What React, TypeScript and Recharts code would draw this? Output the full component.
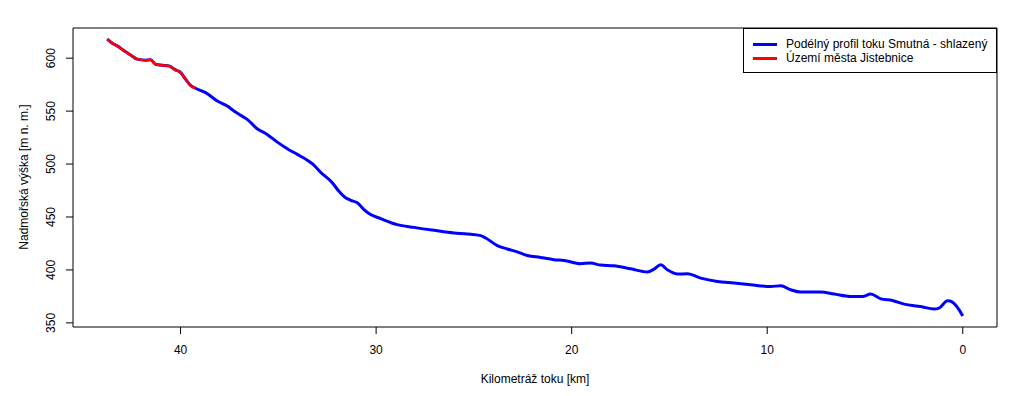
import React from 'react';
import {
  LineChart,
  Line,
  XAxis,
  YAxis,
  ReferenceArea,
  Legend,
} from 'recharts';

// river kilometre (km) and elevation (m n. m.)
const km = [
  43.75, 43.49, 43.24, 42.81, 42.56, 42.22, 41.79, 41.53, 41.28, 40.94,
  40.6, 40.26, 40.0, 39.74, 39.49, 39.23, 38.72, 38.12, 37.61, 37.27,
  36.93, 36.59, 36.08, 35.57, 35.05, 34.54, 34.03, 33.52, 33.25, 32.84,
  32.24, 31.9, 31.56, 31.3, 30.96, 30.62, 30.28, 29.77, 28.92, 28.07,
  27.04, 26.02, 25.34, 24.65, 24.4, 23.8, 23.29, 22.86, 22.27, 21.59,
  20.91, 20.39, 19.54, 19.03, 18.52, 17.84, 16.98, 16.13, 15.79, 15.45,
  15.11, 14.59, 14.08, 13.4, 12.55, 11.7, 10.84, 9.82, 9.31, 8.8,
  8.29, 7.26, 6.58, 5.73, 5.13, 4.71, 4.19, 3.6, 3.0, 2.15,
  1.47, 1.21, 0.78, 0.53, 0.0,
];
const elevation = [
  618.0, 614.2, 611.6, 606.0, 603.1, 599.1, 598.1, 598.4, 594.3, 593.4,
  592.7, 588.9, 586.5, 580.1, 574.4, 571.6, 567.5, 559.6, 554.8, 550.1,
  546.0, 542.2, 533.4, 528.0, 520.7, 514.5, 509.1, 503.7, 500.1, 492.3,
  482.3, 474.3, 468.1, 465.8, 463.4, 457.0, 452.3, 448.5, 442.8, 440.2,
  437.4, 434.9, 434.0, 432.4, 430.2, 422.9, 419.8, 417.5, 413.7, 411.8,
  409.7, 409.0, 405.9, 406.5, 404.6, 404.0, 401.1, 398.1, 400.7, 404.9,
  400.2, 396.1, 396.4, 392.3, 389.1, 387.6, 386.0, 384.4, 385.0, 381.3,
  379.1, 379.1, 377.2, 374.9, 374.9, 377.2, 372.7, 371.1, 367.7, 365.4,
  363.0, 363.9, 370.8, 369.6, 356.6,
];
// first points lie inside the town of Jistebnice
const townPoints = 16;

const xTicks = [0, 10, 20, 30, 40];
const yTicks = [350, 400, 450, 500, 550, 600];

const profile = km.map((k, i) => ({ km: k, h: elevation[i] }));
const town = profile.slice(0, townPoints);

const FONT = '"Liberation Sans", Arial, Helvetica, sans-serif';
const X_DOMAIN: [number, number] = [-1.75, 45.5];
const Y_DOMAIN: [number, number] = [346.1, 628.5];

const XTick = (props: any) => (
  <text x={props.x} y={354} textAnchor="middle" fontSize={12} fontFamily={FONT} fill="#000">
    {props.payload.value}
  </text>
);

const YTick = (props: any) => (
  <text
    x={55}
    y={props.y}
    transform={`rotate(-90, 55, ${props.y})`}
    textAnchor="middle"
    fontSize={12}
    fontFamily={FONT}
    fill="#000"
  >
    {props.payload.value}
  </text>
);

const LegendBox = () => (
  <div
    style={{
      border: '1px solid #000',
      background: '#fff',
      boxSizing: 'border-box',
      width: 254,
      height: 45,
      fontFamily: FONT,
      fontSize: 12,
      color: '#000',
      padding: '8px 0 0 9px',
      lineHeight: '14px',
    }}
  >
    {[
      { name: 'Podélný profil toku Smutná - shlazený', color: '#0000ff' },
      { name: 'Území města Jistebnice', color: '#ff0000' },
    ].map((item) => (
      <div key={item.name} style={{ display: 'flex', alignItems: 'center', height: 14 }}>
        <span style={{ display: 'inline-block', width: 24, height: 3, background: item.color, marginRight: 9 }} />
        <span>{item.name}</span>
      </div>
    ))}
  </div>
);

export default function App() {
  return (
    <div style={{ position: 'absolute', left: 0, top: 0, background: '#fff' }}>
      <LineChart width={1029} height={396} margin={{ top: 28, right: 32, bottom: 0, left: 0 }}>
        <XAxis
          dataKey="km"
          type="number"
          reversed
          domain={X_DOMAIN}
          ticks={xTicks}
          allowDataOverflow
          axisLine={false}
          tickSize={7}
          tickLine={{ stroke: '#000' }}
          tick={<XTick />}
          height={69}
          label={{
            content: () => (
              <text x={535} y={383} textAnchor="middle" fontSize={12} fontFamily={FONT} fill="#000">
                Kilometráž toku [km]
              </text>
            ),
          }}
        />
        <YAxis
          dataKey="h"
          type="number"
          domain={Y_DOMAIN}
          ticks={yTicks}
          allowDataOverflow
          axisLine={false}
          tickSize={7}
          tickLine={{ stroke: '#000' }}
          tick={<YTick />}
          width={73}
          label={{
            content: () => (
              <text
                x={28}
                y={177}
                transform="rotate(-90, 28, 177)"
                textAnchor="middle"
                fontSize={12}
                fontFamily={FONT}
                fill="#000"
              >
                Nadmořská výška [m n. m.]
              </text>
            ),
          }}
        />
        <ReferenceArea
          x1={X_DOMAIN[0]}
          x2={X_DOMAIN[1]}
          y1={Y_DOMAIN[0]}
          y2={Y_DOMAIN[1]}
          fill="none"
          stroke="#000"
          strokeWidth={1}
        />
        <Line
          data={profile}
          dataKey="h"
          type="monotone"
          stroke="#0000ff"
          strokeWidth={3}
          dot={false}
          isAnimationActive={false}
        />
        <Line
          data={town}
          dataKey="h"
          type="monotone"
          stroke="#ff0000"
          strokeWidth={2.5}
          dot={false}
          isAnimationActive={false}
        />
        <Legend
          layout="horizontal"
          verticalAlign="middle"
          align="center"
          content={<LegendBox />}
          wrapperStyle={{ left: 743, top: 28, width: 254, height: 45, right: 'auto', bottom: 'auto' }}
        />
      </LineChart>
    </div>
  );
}
